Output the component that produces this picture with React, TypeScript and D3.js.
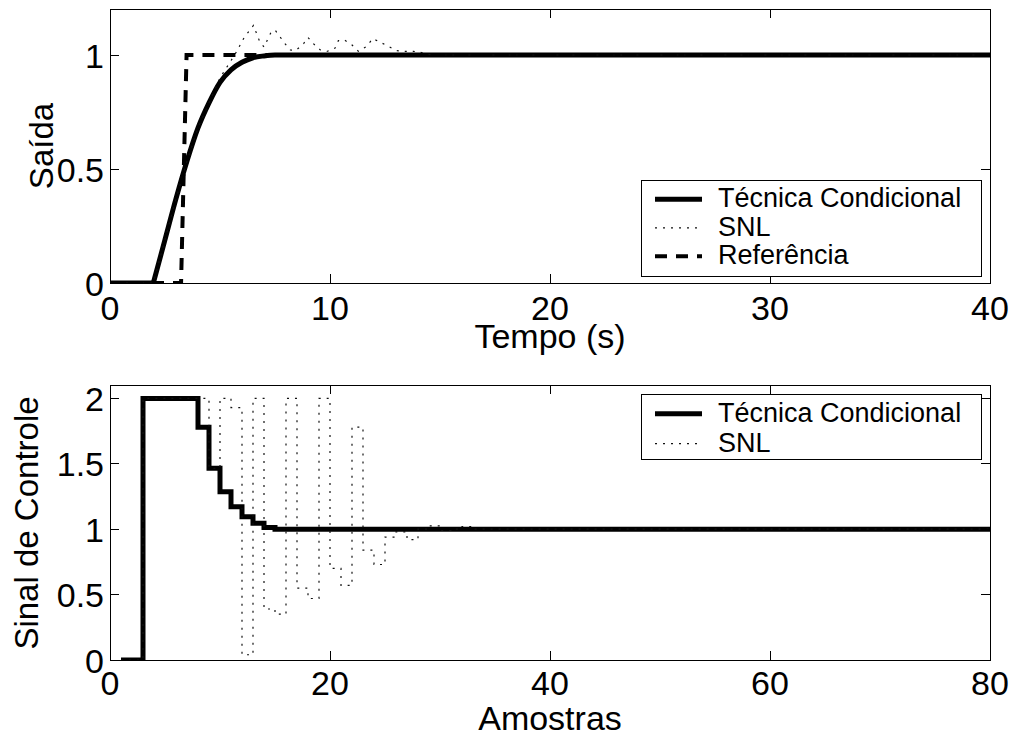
import React from 'react';
import * as d3 from 'd3';

// ---------- data ----------
const tempoTicks = [0, 10, 20, 30, 40];
const saidaTicks = [0, 0.5, 1];
const amostrasTicks = [0, 20, 40, 60, 80];
const sinalTicks = [0, 0.5, 1, 1.5, 2];

// top: output vs time (s)
const condT = [0, 1.97, 2.5, 3, 3.5, 4, 4.5, 5, 5.5, 6, 6.5, 7, 7.5, 8, 40];
const condY = [0, 0, 0.19, 0.37, 0.535, 0.68, 0.79, 0.88, 0.935, 0.968, 0.988, 0.996, 1, 1, 1];

const snlT = [0, 1.97, 2.5, 3, 3.5, 4, 4.5, 5, 5.5, 5.76, 6.1, 6.52, 6.8, 7.0, 7.32, 7.5, 7.95, 8.2, 8.45, 8.8, 9.0, 9.24, 9.55, 9.85, 10.23, 10.38, 10.64, 10.99, 11.29, 11.67, 11.94, 12.27, 12.65, 13.03, 13.4, 13.8, 14.2, 14.6, 40];
const snlY = [0, 0, 0.19, 0.37, 0.535, 0.68, 0.79, 0.9, 0.975, 1.016, 1.077, 1.13, 1.06, 1.035, 1.1, 1.11, 1.05, 1.022, 1.02, 1.05, 1.077, 1.05, 1.023, 1.015, 1.03, 1.063, 1.067, 1.045, 1.016, 1.038, 1.072, 1.057, 1.038, 1.019, 1.016, 1.016, 1.01, 1.0, 1.0];

const refT = [0, 3.23, 3.48, 40];
const refY = [0, 0, 1, 1];

// bottom: control signal vs samples (stairs breakpoints)
const condN = [1, 3, 8, 9, 10, 11, 12, 13, 14, 15, 80];
const condU = [0, 2, 1.78, 1.465, 1.287, 1.172, 1.096, 1.045, 1.012, 1.0, 1.0];

const snlN = [1, 3, 9, 10, 11, 12, 13, 14, 15, 16, 17, 18, 19, 20, 21, 22, 23, 24, 25, 26, 27, 28, 29, 30, 31, 32, 33, 80];
const snlU = [0, 2, 1.465, 2, 1.93, 0.04, 2, 0.39, 0.35, 2, 0.55, 0.47, 2, 0.7, 0.57, 1.78, 0.84, 0.73, 0.94, 0.98, 0.92, 1.0, 1.025, 0.99, 1.0, 1.02, 1.0, 1.0];

const legendTop = ['Técnica Condicional', 'SNL', 'Referência'];
const legendBottom = ['Técnica Condicional', 'SNL'];

// ---------- styles ----------
const FONT = 'Liberation Sans, Arial, Helvetica, sans-serif';
const SOLID = { stroke: '#000', strokeWidth: 5, fill: 'none', strokeLinejoin: 'round' as const, strokeLinecap: 'round' as const };
const DOT = { stroke: '#111', strokeWidth: 1.2, fill: 'none', strokeDasharray: '2 6' };
const DASH = { stroke: '#000', strokeWidth: 4, fill: 'none', strokeDasharray: '12 9' };

type Pt = [number, number];
const zip = (a: number[], b: number[]): Pt[] => a.map((v, i) => [v, b[i]]);

function Frame({ x, y, xTicks, yTicks, xFmt, yFmt, tickBase }: any) {
  const [x0, x1] = x.range();
  const [y0, y1] = y.range();
  const TL = 9;
  return (
    <g>
      <rect x={x0} y={y1} width={x1 - x0} height={y0 - y1} fill="none" stroke="#000" strokeWidth={1} shapeRendering="crispEdges" />
      {xTicks.map((t: number) => (
        <g key={'x' + t}>
          <line x1={x(t)} x2={x(t)} y1={y0} y2={y0 - TL} stroke="#000" shapeRendering="crispEdges" />
          <line x1={x(t)} x2={x(t)} y1={y1} y2={y1 + TL} stroke="#000" shapeRendering="crispEdges" />
          <text x={x(t)} y={y0 + tickBase} textAnchor="middle" fontFamily={FONT} fontSize={34}>{xFmt(t)}</text>
        </g>
      ))}
      {yTicks.map((t: number) => (
        <g key={'y' + t}>
          <line x1={x0} x2={x0 + TL} y1={y(t)} y2={y(t)} stroke="#000" shapeRendering="crispEdges" />
          <line x1={x1} x2={x1 - TL} y1={y(t)} y2={y(t)} stroke="#000" shapeRendering="crispEdges" />
          <text x={x0 - 6} y={y(t) + 12.5} textAnchor="end" fontFamily={FONT} fontSize={34}>{yFmt(t)}</text>
        </g>
      ))}
    </g>
  );
}

function Legend({ x, y, w, h, items, styles, firstBase, step }: any) {
  return (
    <g>
      <rect x={x} y={y} width={w} height={h} fill="#fff" stroke="#000" strokeWidth={1} shapeRendering="crispEdges" />
      {items.map((s: string, i: number) => {
        const by = y + firstBase + i * step;
        const st = styles[i];
        return (
          <g key={s}>
            <line x1={x + 14} x2={x + 61} y1={by - 8} y2={by - 8} {...st} strokeLinecap="butt" />
            <text x={x + 77} y={by} fontFamily={FONT} fontSize={27}>{s}</text>
          </g>
        );
      })}
    </g>
  );
}

export default function App() {
  // top axes
  const xT = d3.scaleLinear().domain([0, 40]).range([110, 990]);
  const yT = d3.scaleLinear().domain([0, 1.2]).range([283, 9.4]);
  // bottom axes
  const xB = d3.scaleLinear().domain([0, 80]).range([110, 990]);
  const yB = d3.scaleLinear().domain([0, 2.1]).range([660, 385.3]);

  const lineT = d3.line<Pt>().x(d => xT(d[0])).y(d => yT(d[1]));
  const curveT = d3.line<Pt>().x(d => xT(d[0])).y(d => yT(d[1])).curve(d3.curveMonotoneX);
  const stairB = d3.line<Pt>().x(d => xB(d[0])).y(d => yB(d[1])).curve(d3.curveStepAfter);

  const cond = zip(condT, condY);
  const fmt = (v: number) => String(v);

  return (
    <svg width={1016} height={736} style={{ position: 'absolute', left: 0, top: 0, background: '#fff' }}>
      <defs>
        <clipPath id="clipT"><rect x={110} y={9.4} width={880} height={273.6} /></clipPath>
        <clipPath id="clipB"><rect x={110} y={385.3} width={880} height={274.7} /></clipPath>
      </defs>
      <rect x={0} y={0} width={1016} height={736} fill="#fff" />

      {/* top plot */}
      <g clipPath="url(#clipT)">
        <path d={lineT(cond.slice(0, 2)) || ''} {...SOLID} />
        <path d={curveT(cond.slice(1)) || ''} {...SOLID} />
        <path d={lineT(zip(snlT, snlY)) || ''} {...DOT} />
        <path d={lineT(zip(refT, refY)) || ''} {...DASH} />
      </g>
      <Frame x={xT} y={yT} xTicks={tempoTicks} yTicks={saidaTicks} xFmt={fmt} yFmt={fmt} tickBase={37} />
      <text x={550} y={348} textAnchor="middle" fontFamily={FONT} fontSize={34}>Tempo (s)</text>
      <text transform="translate(53,146) rotate(-90)" textAnchor="middle" fontFamily={FONT} fontSize={33}>Saída</text>
      <Legend x={641} y={180.7} w={340.5} h={95.3} items={legendTop} styles={[SOLID, DOT, DASH]} firstBase={26.6} step={28.5} />

      {/* bottom plot */}
      <g clipPath="url(#clipB)">
        <path d={stairB(zip(condN, condU)) || ''} {...SOLID} strokeLinecap="butt" strokeLinejoin="miter" />
        <path d={stairB(zip(snlN, snlU)) || ''} {...DOT} />
      </g>
      <Frame x={xB} y={yB} xTicks={amostrasTicks} yTicks={sinalTicks} xFmt={fmt} yFmt={fmt} tickBase={35} />
      <text x={550} y={730} textAnchor="middle" fontFamily={FONT} fontSize={34}>Amostras</text>
      <text transform="translate(38,523) rotate(-90)" textAnchor="middle" fontFamily={FONT} fontSize={33}>Sinal de Controle</text>
      <Legend x={641} y={394.7} w={340.5} h={64.3} items={legendBottom} styles={[SOLID, DOT]} firstBase={27} step={30} />
    </svg>
  );
}
